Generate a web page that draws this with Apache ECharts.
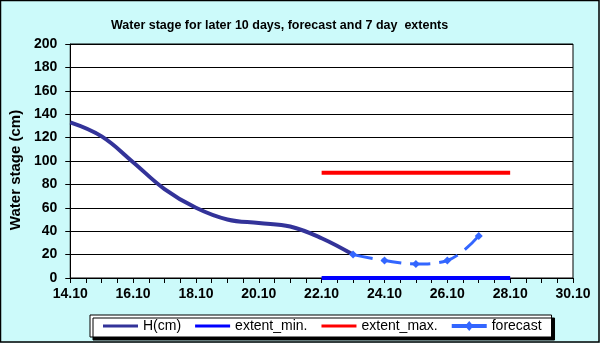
<!DOCTYPE html>
<html><head><meta charset="utf-8">
<script src="https://cdn.jsdelivr.net/npm/echarts@6/dist/echarts.min.js"></script>
<style>html,body{margin:0;padding:0;background:#fff}#c{width:600px;height:343px}</style>
</head><body><div id="c"></div>
<script>
var titleText = 'Water stage for later 10 days, forecast and 7 day  extents';
var hDays = [14, 15, 16, 17, 18, 19, 20, 21, 22, 23];
var hValues = [133, 121, 99, 76, 60, 50, 47, 44, 34, 20];
var extentDays = [22, 28];
var extentMin = [0, 0];
var extentMax = [90, 90];
var forecastDays = [23, 24, 25, 26, 27];
var forecastValues = [20, 15, 12, 15, 36];
var yTicks = [0, 20, 40, 60, 80, 100, 120, 140, 160, 180, 200];
var xLabelDays = [14, 16, 18, 20, 22, 24, 26, 28, 30];
var monthSuffix = '.10';

function pairs(xs, ys) { return xs.map(function (x, i) { return [x, ys[i]]; }); }

var FONT = 'Arial, Liberation Sans';
var chart = echarts.init(document.getElementById('c'), null, {renderer: 'canvas'});
chart.setOption({
  backgroundColor: '#CCFAFA',
  animation: false,
  title: {
    text: titleText, left: 106, top: 14,
    textStyle: {fontFamily: FONT, fontSize: 12.5, fontWeight: 'bold', color: '#000'}
  },
  graphic: [{
    type: 'rect', shape: {x: 0.5, y: 0.5, width: 598.5, height: 341.5},
    style: {fill: 'none', stroke: '#000', lineWidth: 1.5}, z: 100
  }],
  grid: {
    left: 67, right: 27, top: 44, bottom: 65, show: true,
    backgroundColor: '#fff', borderColor: '#000', borderWidth: 1
  },
  legend: {
    left: 90, top: 315, width: 470,
    backgroundColor: '#fff', borderColor: '#000', borderWidth: 1,
    shadowColor: '#000', shadowOffsetX: 3, shadowOffsetY: 3, shadowBlur: 0,
    padding: [4, 10, 4, 13], itemGap: 14, itemWidth: 35, itemHeight: 14, itemTextGap: 3,
    textStyle: {fontFamily: FONT, fontSize: 14, color: '#000'},
    data: [
      {name: 'H(cm)', icon: 'path://M0,5.5L35,5.5L35,8.5L0,8.5Z'},
      {name: 'extent_min.', icon: 'path://M0,5.5L35,5.5L35,8.5L0,8.5Z'},
      {name: 'extent_max.', icon: 'path://M0,5.5L35,5.5L35,8.5L0,8.5Z'},
      {name: 'forecast', icon: 'path://M5,5.5L30,5.5L30,8.5L5,8.5Z M17.5,3.5L20.5,7L17.5,10.5L14.5,7Z'}
    ]
  },
  xAxis: {
    type: 'value', min: 14, max: 30, interval: 0.5,
    axisLine: {lineStyle: {color: '#000', width: 1}},
    axisTick: {show: true, inside: false, length: 5, lineStyle: {color: '#000'}},
    splitLine: {show: false},
    axisLabel: {
      margin: 9, color: '#000', fontFamily: FONT, fontSize: 14, fontWeight: 'bold',
      formatter: function (v) { return xLabelDays.indexOf(v) >= 0 ? v + monthSuffix : ''; }
    }
  },
  yAxis: {
    type: 'value', min: yTicks[0], max: yTicks[yTicks.length - 1], interval: yTicks[1] - yTicks[0],
    name: 'Water stage (cm)', nameLocation: 'middle', nameGap: 41, nameRotate: 90,
    nameTextStyle: {fontFamily: FONT, fontSize: 15, fontWeight: 'bold', color: '#000', padding: [0, 18, 0, 0]},
    axisLine: {show: true, lineStyle: {color: '#000', width: 1}},
    axisTick: {show: true, length: 5, lineStyle: {color: '#000'}},
    splitLine: {show: true, lineStyle: {color: '#000', width: 1}},
    axisLabel: {margin: 13, color: '#000', fontFamily: FONT, fontSize: 14, fontWeight: 'bold'}
  },
  series: [
    {name: 'H(cm)', type: 'line', smooth: 0.4, showSymbol: false, symbol: 'none',
     data: pairs(hDays, hValues), lineStyle: {color: '#333399', width: 4}, itemStyle: {color: '#333399'}, z: 3},
    {name: 'extent_min.', type: 'line', showSymbol: false, symbol: 'none', clip: false,
     data: pairs(extentDays, extentMin), lineStyle: {color: '#0000FF', width: 4}, itemStyle: {color: '#0000FF'}, z: 4},
    {name: 'extent_max.', type: 'line', showSymbol: false, symbol: 'none',
     data: pairs(extentDays, extentMax), lineStyle: {color: '#FF0000', width: 4}, itemStyle: {color: '#FF0000'}, z: 4},
    {name: 'forecast', type: 'line', smooth: 0.4, symbol: 'diamond', symbolSize: 8, showSymbol: true,
     data: pairs(forecastDays, forecastValues),
     lineStyle: {color: '#3366FF', width: 3, type: [20, 9]}, itemStyle: {color: '#3366FF'}, z: 5}
  ]
});
</script></body></html>
